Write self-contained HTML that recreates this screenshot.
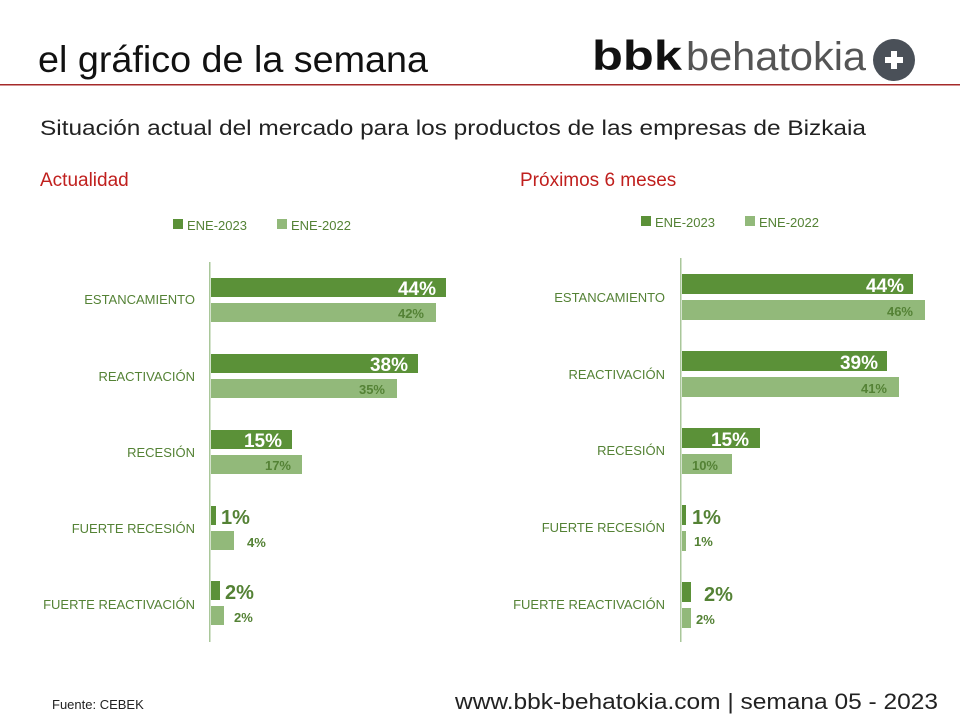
<!DOCTYPE html>
<html><head><meta charset="utf-8"><style>
html,body{margin:0;padding:0;background:#fff;}
svg{display:block;font-family:"Liberation Sans",sans-serif;}
</style></head><body>
<svg width="960" height="720" viewBox="0 0 960 720" xmlns="http://www.w3.org/2000/svg">
<rect width="960" height="720" fill="#fff"/>
<text x="38" y="72" font-size="37" fill="#111" textLength="390" lengthAdjust="spacingAndGlyphs">el gráfico de la semana</text>
<text x="592" y="70" font-size="42" font-weight="bold" fill="#111" textLength="90" lengthAdjust="spacingAndGlyphs">bbk</text>
<text x="686" y="70" font-size="40" fill="#555" textLength="180" lengthAdjust="spacingAndGlyphs">behatokia</text>
<circle cx="894" cy="60" r="21" fill="#4a5058"/>
<rect x="885" y="57" width="18" height="6" fill="#fff"/><rect x="891" y="51" width="6" height="18" fill="#fff"/>
<rect x="0" y="84" width="960" height="1.5" fill="#a52a2a"/>
<text x="40" y="135" font-size="21" fill="#222" textLength="826" lengthAdjust="spacingAndGlyphs">Situación actual del mercado para los productos de las empresas de Bizkaia</text>
<text x="40" y="186" font-size="19" fill="#c0201e">Actualidad</text>
<text x="520" y="186" font-size="19" fill="#c0201e">Próximos 6 meses</text>

<g font-size="13" fill="#548235">
<rect x="173" y="219" width="10" height="10" fill="#5b9138"/><text x="187" y="230">ENE-2023</text>
<rect x="277" y="219" width="10" height="10" fill="#92b97a"/><text x="291" y="230">ENE-2022</text>
<rect x="641" y="216" width="10" height="10" fill="#5b9138"/><text x="655" y="227">ENE-2023</text>
<rect x="745" y="216" width="10" height="10" fill="#92b97a"/><text x="759" y="227">ENE-2022</text>
</g>

<rect x="209" y="262" width="1.5" height="380" fill="#a9c79a"/>
<rect x="680" y="258" width="1.5" height="384" fill="#a9c79a"/>

<g font-size="13" fill="#548235" text-anchor="end">
<text x="195" y="304">ESTANCAMIENTO</text>
<text x="195" y="381">REACTIVACIÓN</text>
<text x="195" y="457">RECESIÓN</text>
<text x="195" y="533">FUERTE RECESIÓN</text>
<text x="195" y="609">FUERTE REACTIVACIÓN</text>
<text x="665" y="302">ESTANCAMIENTO</text>
<text x="665" y="379">REACTIVACIÓN</text>
<text x="665" y="455">RECESIÓN</text>
<text x="665" y="532">FUERTE RECESIÓN</text>
<text x="665" y="609">FUERTE REACTIVACIÓN</text>
</g>

<g fill="#5b9138">
<rect x="211" y="278" width="235" height="19"/>
<rect x="211" y="354" width="207" height="19"/>
<rect x="211" y="430" width="81" height="19"/>
<rect x="211" y="506" width="5" height="19"/>
<rect x="211" y="581" width="9" height="19"/>
</g>
<g fill="#92b97a">
<rect x="211" y="303" width="225" height="19"/>
<rect x="211" y="379" width="186" height="19"/>
<rect x="211" y="455" width="91" height="19"/>
<rect x="211" y="531" width="23" height="19"/>
<rect x="211" y="606" width="13" height="19"/>
</g>
<g fill="#5b9138">
<rect x="682" y="274" width="231" height="20"/>
<rect x="682" y="351" width="205" height="20"/>
<rect x="682" y="428" width="78" height="20"/>
<rect x="682" y="505" width="4" height="20"/>
<rect x="682" y="582" width="9" height="20"/>
</g>
<g fill="#92b97a">
<rect x="682" y="300" width="243" height="20"/>
<rect x="682" y="377" width="217" height="20"/>
<rect x="682" y="454" width="50" height="20"/>
<rect x="682" y="531" width="4" height="20"/>
<rect x="682" y="608" width="9" height="20"/>
</g>

<g font-weight="bold" font-size="19" fill="#fff" text-anchor="end">
<text x="436" y="295">44%</text>
<text x="408" y="371">38%</text>
<text x="282" y="447">15%</text>
<text x="904" y="292">44%</text>
<text x="878" y="369">39%</text>
<text x="749" y="446">15%</text>
</g>
<g font-weight="bold" font-size="13" fill="#548235" text-anchor="end">
<text x="424" y="318">42%</text>
<text x="385" y="394">35%</text>
<text x="291" y="470">17%</text>
<text x="913" y="316">46%</text>
<text x="887" y="393">41%</text>
<text x="718" y="470">10%</text>
</g>
<g font-weight="bold" font-size="20" fill="#548235">
<text x="221" y="524">1%</text>
<text x="225" y="599">2%</text>
<text x="692" y="524">1%</text>
<text x="704" y="601">2%</text>
</g>
<g font-weight="bold" font-size="13" fill="#548235">
<text x="247" y="547">4%</text>
<text x="234" y="622">2%</text>
<text x="694" y="546">1%</text>
<text x="696" y="624">2%</text>
</g>

<text x="52" y="709" font-size="13" fill="#222">Fuente: CEBEK</text>
<text x="455" y="709" font-size="22" fill="#222" textLength="483" lengthAdjust="spacingAndGlyphs">www.bbk-behatokia.com | semana 05 - 2023</text>
</svg>
</body></html>
